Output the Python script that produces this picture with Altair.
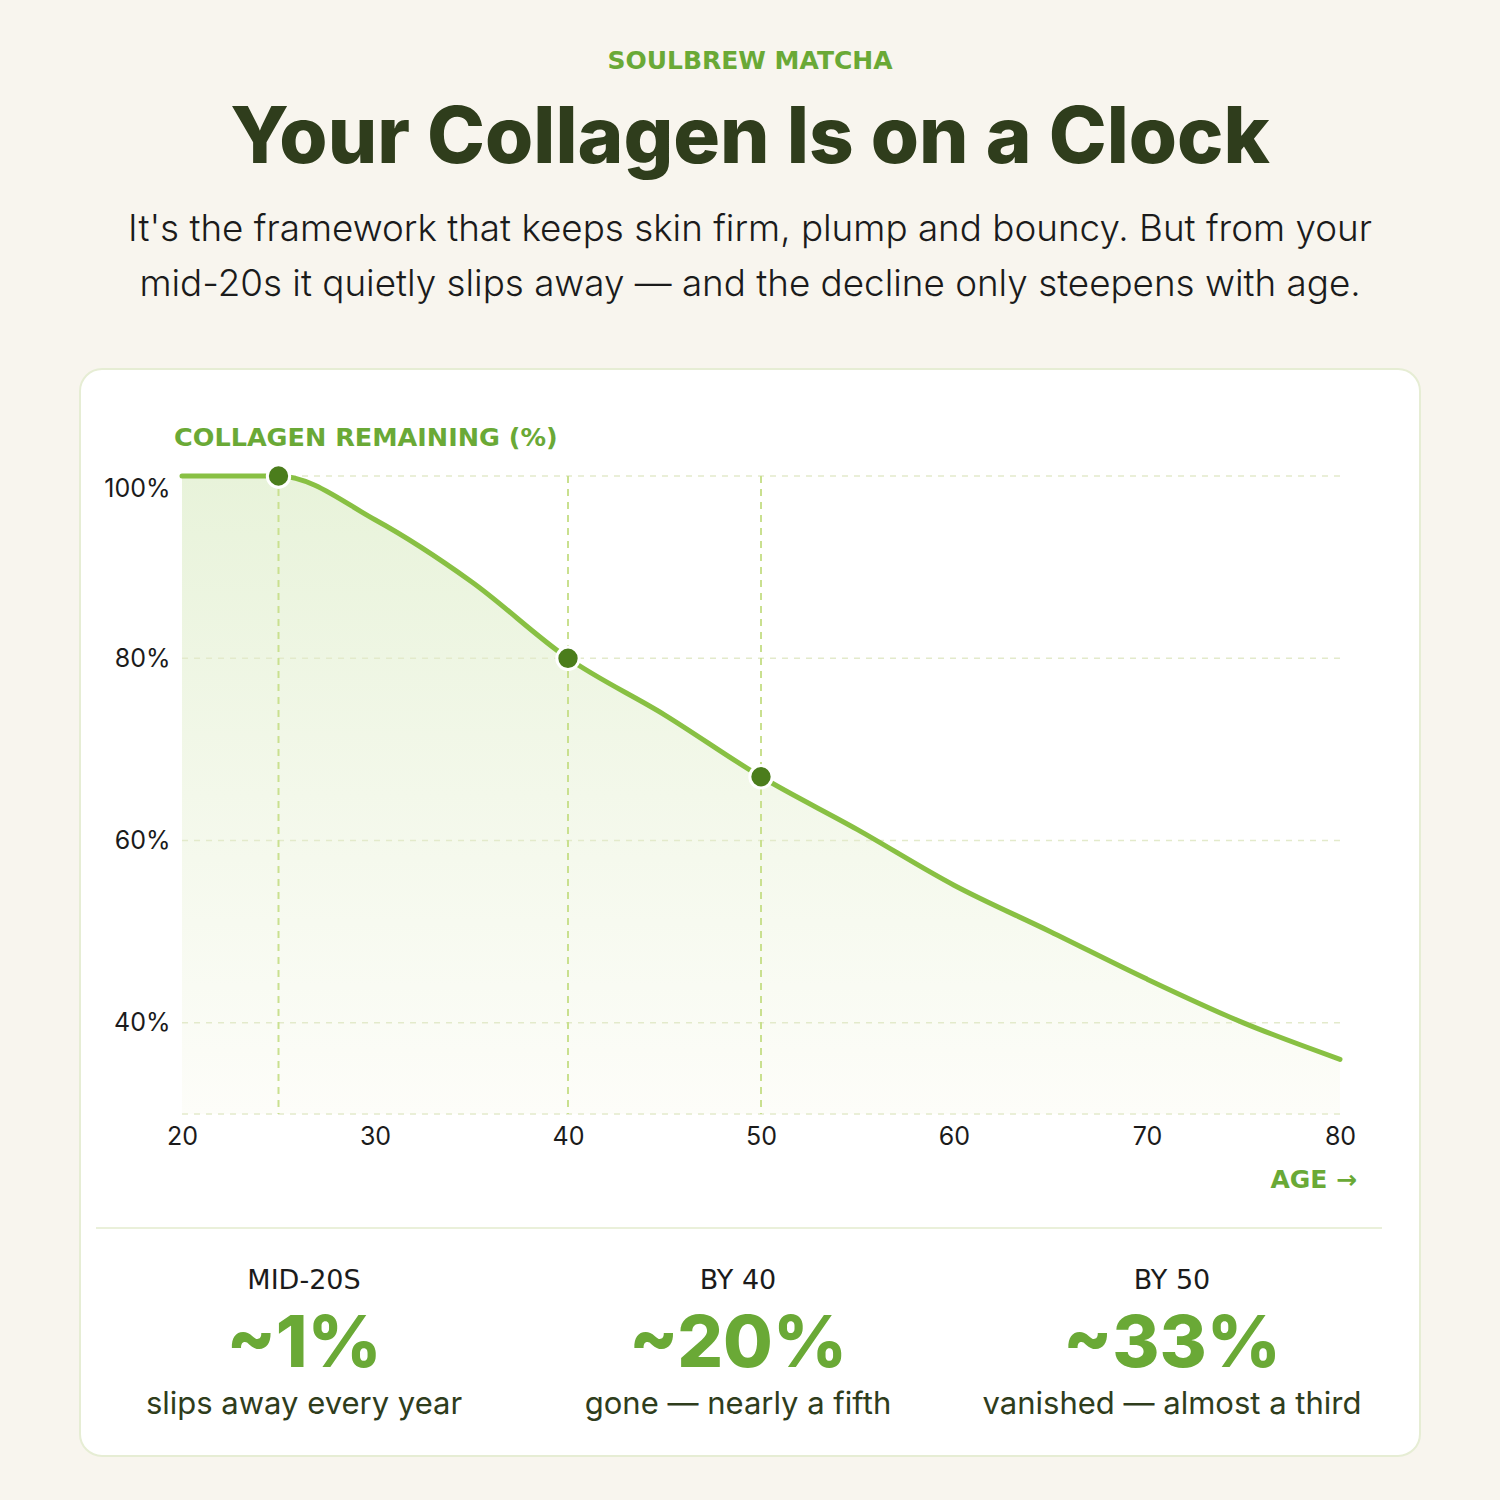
import altair as alt
import pandas as pd

# ---------------- data ----------------
ages = [20, 25, 30, 35, 40, 45, 50, 55, 60, 65, 70, 75, 80]
collagen = [100, 100, 95.2, 88.4, 80, 73.8, 67, 61.2, 55.1, 50, 44.8, 40, 36]
marker_ages = [25, 40, 50]
marker_values = [100, 80, 67]
y_ticks = [40, 60, 80, 100]
grid_levels = [30, 40, 60, 80, 100]
x_ticks = [20, 30, 40, 50, 60, 70, 80]

brand = "SOULBREW MATCHA"
headline = "Your Collagen Is on a Clock"
subtitle_lines = [
    "It's the framework that keeps skin firm, plump and bouncy. But from your",
    "mid-20s it quietly slips away \u2014 and the decline only steepens with age.",
]
y_title = "COLLAGEN REMAINING (%)"
x_title = "AGE \u2192"
stat_labels = ["MID-20S", "BY 40", "BY 50"]
stat_values = ["~1%", "~20%", "~33%"]
stat_notes = ["slips away every year", "gone \u2014 nearly a fifth", "vanished \u2014 almost a third"]

# ---------------- layout ----------------
W, H = 1500, 1500
PL, PT = 182, 476          # plot origin in page pixels
PW, PH = 1158, 638         # plot size
STAT_X = [304, 738, 1172]

def px(x):
    return x - PL

def py(y):
    return y - PT

GREEN = "#6aa936"
LINE = "#88c043"
DARK = "#2f3d1c"
INK = "#1b1b1b"
FONT = "Inter"
WIDE = "DejaVu Sans"

curve = pd.DataFrame({"age": ages, "value": collagen})
markers = pd.DataFrame({"age": marker_ages, "value": marker_values})
grid = pd.DataFrame({"level": grid_levels})
one = pd.DataFrame({"k": [0]})

xs = alt.Scale(domain=[20, 80], nice=False, zero=False)
ys = alt.Scale(domain=[30, 100], nice=False, zero=False)
xaxis = alt.Axis(values=x_ticks, title=None, labelFontSize=25, labelPadding=10,
                 labelColor=INK, labelFont=FONT, domain=False, ticks=False, grid=False,
                 labelFlush=False, zindex=5)
yaxis = alt.Axis(values=y_ticks, title=None, labelFontSize=25, labelPadding=12,
                 labelColor=INK, labelFont=FONT, domain=False, ticks=False, grid=False,
                 labelExpr="datum.value + '%'", labelFlush=True, zindex=5)

card = alt.Chart(one).mark_rect(fill="white", stroke="#e6edd4", strokeWidth=2,
                                cornerRadius=22).encode(
    x=alt.value(px(80)), x2=alt.value(px(1420)),
    y=alt.value(py(369)), y2=alt.value(py(1456)))

divider = alt.Chart(one).mark_rule(color="#eaf0da", strokeWidth=2).encode(
    x=alt.value(px(96)), x2=alt.value(px(1382)), y=alt.value(py(1228)))

area = alt.Chart(curve).mark_area(
    interpolate="monotone",
    color=alt.Gradient(
        gradient="linear",
        stops=[alt.GradientStop(color="#e8f3da", offset=0),
               alt.GradientStop(color="#f3f8ea", offset=0.5),
               alt.GradientStop(color="#fdfdf9", offset=1)],
        x1=0, x2=0, y1=0, y2=1)).encode(
    x=alt.X("age:Q", scale=xs, axis=xaxis),
    y=alt.Y("value:Q", scale=ys, axis=yaxis),
    y2=alt.datum(30))

gridlines = alt.Chart(grid).mark_rule(color="#e3eacb", strokeWidth=1.5,
                                      strokeDash=[6, 6]).encode(
    y=alt.Y("level:Q", scale=ys, axis=yaxis))

vrules = alt.Chart(markers).mark_rule(color="#c9e08f", strokeWidth=2,
                                      strokeDash=[7, 6]).encode(
    x=alt.X("age:Q", scale=xs, axis=xaxis))

line = alt.Chart(curve).mark_line(interpolate="monotone", color=LINE,
                                  strokeWidth=5, strokeCap="round").encode(
    x=alt.X("age:Q", scale=xs, axis=xaxis),
    y=alt.Y("value:Q", scale=ys, axis=yaxis))

dots = alt.Chart(markers).mark_circle(size=500, fill="#4b7d1c", opacity=1,
                                      stroke="white", strokeWidth=3).encode(
    x=alt.X("age:Q", scale=xs, axis=xaxis),
    y=alt.Y("value:Q", scale=ys, axis=yaxis))

def text_at(s, x, y, size, color, weight="normal", align="center", font=FONT):
    return alt.Chart(pd.DataFrame({"t": [s]})).mark_text(
        fontSize=size, color=color, fontWeight=weight, align=align,
        baseline="middle", font=font).encode(
        text="t:N", x=alt.value(px(x)), y=alt.value(py(y)))

texts = [
    text_at(brand, 750, 61, 25, GREEN, "bold", font=WIDE),
    text_at(headline, 750, 140, 78, DARK, 800),
    text_at(subtitle_lines[0], 750, 230, 36.8, INK, 300),
    text_at(subtitle_lines[1], 750, 285, 36.8, INK, 300),
    text_at(y_title, 174, 438, 25.5, GREEN, "bold", "left", font=WIDE),
    text_at(x_title, 1357, 1180, 25, GREEN, "bold", "right", font=WIDE),
]
for i in range(3):
    texts.append(text_at(stat_labels[i], STAT_X[i], 1281, 27, INK, "normal", font=WIDE))
    texts.append(text_at(stat_values[i], STAT_X[i], 1345, 72, GREEN, 800))
    texts.append(text_at(stat_notes[i], STAT_X[i], 1405, 31, DARK, 400))

chart = alt.layer(card, divider, area, gridlines, vrules, line, dots, *texts).properties(
    width=PW, height=PH,
    padding={"left": PL, "top": PT, "right": W - PL - PW, "bottom": H - PT - PH},
    autosize=alt.AutoSizeParams(type="none"),
    background="#f8f5ee",
).configure_view(stroke=None)

chart.save("out.html", embed_options={"renderer": "svg", "actions": False})
